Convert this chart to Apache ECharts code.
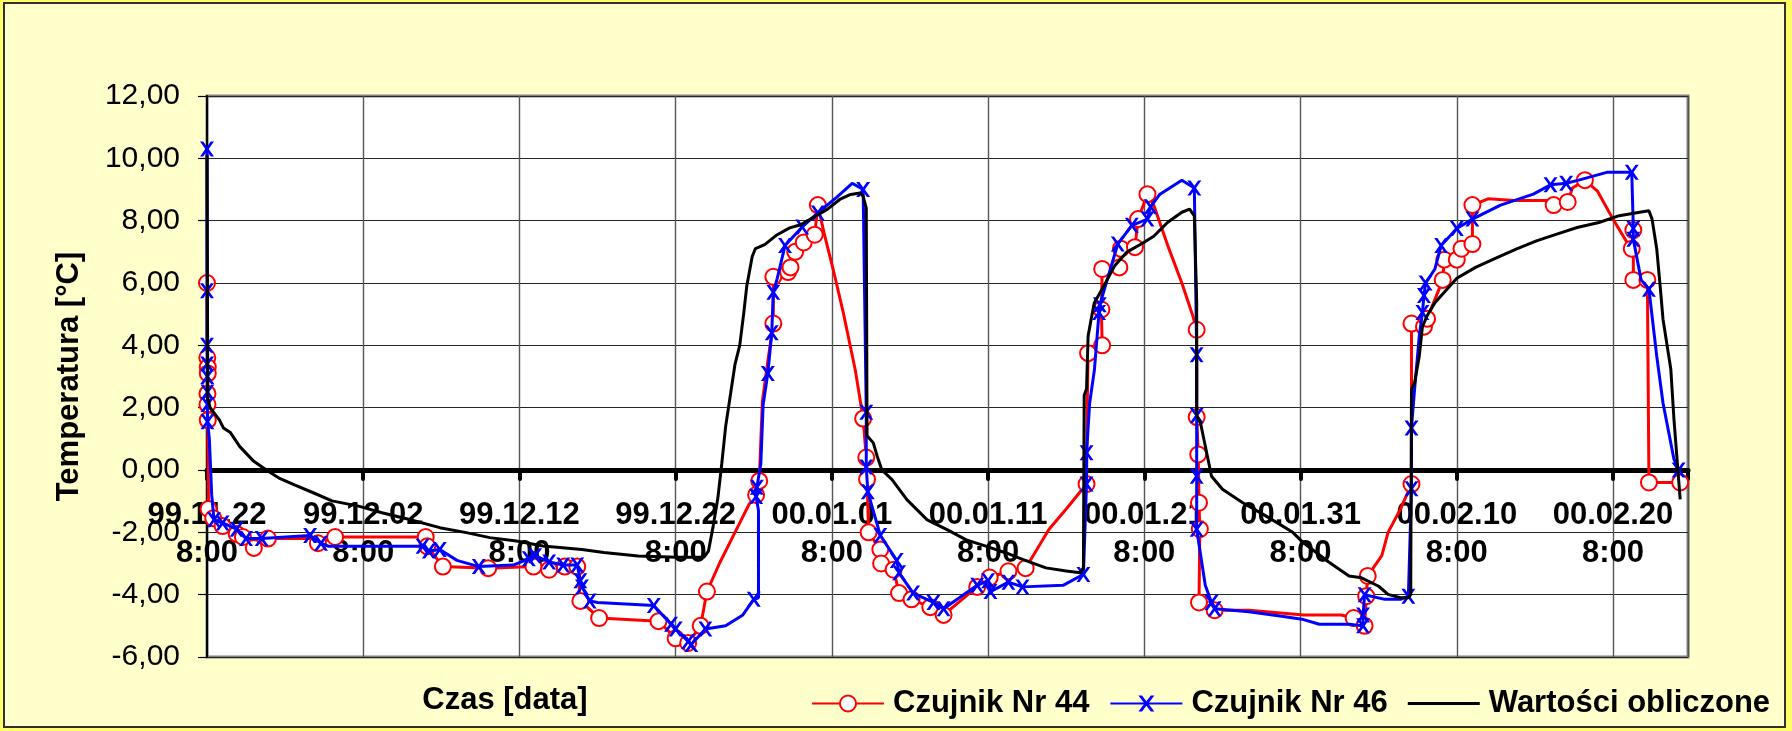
<!DOCTYPE html>
<html>
<head>
<meta charset="utf-8">
<script src="https://cdn.jsdelivr.net/npm/echarts@6/dist/echarts.min.js"></script>
<style>
  html, body { margin: 0; padding: 0; background: #FFFF66; }
  #frame { position: absolute; left: 3px; top: 2px; width: 1783px; height: 726px; box-sizing: border-box;
           background: #FFFFCC; border: 2px solid #303030; }
  #chart { position: absolute; left: 0; top: 0; width: 1792px; height: 731px; }
</style>
</head>
<body>
<div id="frame"></div>
<div id="chart"></div>
<script>
// ---- axis tick labels (x axis: days since 99.11.22 8:00) ----
const tickDates = ['99.11.22', '99.12.02', '99.12.12', '99.12.22', '00.01.01',
                   '00.01.11', '00.01.21', '00.01.31', '00.02.10', '00.02.20'];
const tickTime = '8:00';

// ---- Czujnik Nr 44 (days, temperature, 1 = measured sample with marker) ----
const days44 = [0, 0.02, 0.05, 0.05, 0.03, 0.03, 0.05, 0.1, 0.4, 1.0, 1.9, 2.3, 3.0, 3.9, 7.0, 7.1, 8.2,
  14.0, 14.1, 15.1, 18.0, 20.9, 21.9, 22.9, 23.7, 23.9, 25.1, 28.9, 30.0, 30.8, 31.6, 32.0, 32.8, 33.7, 34.7,
  35.15, 35.35, 35.55, 35.9, 36.25, 36.25, 37.2, 37.35, 37.65, 38.2, 38.9, 39.1, 39.5, 40.1, 40.75, 41.5,
  42.0, 42.2, 42.25, 42.35, 43.1, 43.15, 43.95, 44.3, 45.1, 46.3, 47.15, 49.3, 50.1, 51.3, 52.4, 53.9, 55.0,
  56.3, 56.35, 56.4, 57.3, 57.25, 57.3, 58.4, 58.5, 59.4, 59.6, 60.2, 60.6, 61.5, 62.4, 63.1, 63.35, 63.35,
  63.45, 63.5, 63.55, 63.5, 64.5, 66.7, 70.2, 72.6, 73.4, 74.1, 74.2, 74.3, 75.2, 75.6, 76.4, 77.1, 77.1,
  77.9, 78.1, 79.1, 79.2, 80.0, 80.3, 81.0, 81.0, 82.0, 83.7, 85.9, 86.2, 87.1, 87.4, 88.2, 89.0, 90.0, 90.9,
  91.2, 91.3, 91.3, 92.2, 92.3, 94.3];
const temps44 = [6.0, 3.6, 3.3, 3.1, 2.45, 2.1, 1.6, -1.25, -1.55, -1.8, -2.05, -2.15, -2.5, -2.2, -2.2, -2.35, -2.15,
  -2.15, -2.45, -3.1, -3.15, -3.1, -3.2, -3.1, -3.1, -4.2, -4.75, -4.85, -5.4, -5.55, -5.0, -3.9, -3.0, -2.1, -1.1,
  -0.8, -0.35, 2.2, 3.5, 4.7, 6.2, 6.35, 6.5, 7.0, 7.3, 7.55, 8.5, 7.6, 6.4, 5.0, 3.2,
  1.65, 0.4, -0.3, -2.0, -2.55, -3.0, -3.2, -3.95, -4.15, -4.4, -4.65, -3.75, -3.45, -3.25, -3.15, -1.9, -1.25,
  -0.45, 2.2, 3.75, 4.0, 5.15, 6.45, 6.5, 7.1, 7.15, 8.05, 8.85, 8.5, 7.2, 6.0, 4.95, 4.5, 1.7,
  0.5, -1.05, -1.9, -4.25, -4.5, -4.5, -4.65, -4.65, -4.75, -5.0, -4.05, -3.4, -2.75, -2.0, -1.25, -0.45, 4.7,
  4.6, 4.85, 6.1, 6.75, 6.75, 7.1, 7.25, 8.5, 8.7, 8.65, 8.65, 8.5, 8.6, 9.05, 9.3, 8.95, 8.05, 7.3,
  7.1, 7.7, 6.1, 6.1, -0.4, -0.4];
const marks44 = [1, 1, 1, 1, 1, 1, 1, 1, 1, 1, 1, 1, 1, 1, 0, 1, 1,
  1, 1, 1, 1, 1, 1, 1, 1, 1, 1, 1, 1, 1, 1, 1, 0, 0, 0,
  1, 1, 0, 0, 1, 1, 1, 1, 1, 1, 1, 1, 0, 0, 0, 0,
  1, 1, 1, 1, 1, 1, 1, 1, 1, 1, 1, 1, 1, 1, 1, 0, 0,
  1, 0, 1, 1, 1, 1, 1, 1, 1, 1, 1, 0, 0, 0, 0, 1, 1,
  1, 1, 1, 1, 1, 0, 0, 0, 1, 1, 1, 1, 0, 0, 0, 1, 1,
  1, 1, 1, 1, 1, 1, 1, 1, 0, 0, 0, 1, 1, 0, 1, 0, 0, 0,
  1, 1, 1, 1, 1, 1];

// ---- Czujnik Nr 46 ----
const days46 = [0, 0, 0, 0.01, 0.02, 0.03, 0.03, 0.03, 0.15, 0.3, 0.45, 1.0, 1.9, 2.5, 3.5, 6.6, 7.3, 7.8,
  13.8, 14.2, 14.9, 16.0, 17.4, 19.6, 20.6, 21.0, 21.9, 22.8, 23.7, 23.9, 24.0, 24.5, 25.0, 28.6, 29.7, 30.0,
  30.8, 31.0, 31.9, 33.2, 34.3, 35.0, 35.3, 35.3, 35.15, 35.2, 35.45, 35.6, 35.9, 36.15, 36.25, 36.5, 37.0,
  38.1, 39.1, 40.3, 41.3, 42.0, 42.2, 42.2, 42.3, 43.1, 44.15, 44.3, 45.2, 46.5, 47.15, 49.3, 50.0, 50.15,
  51.3, 52.2, 54.8, 55.9, 56.1, 56.3, 56.3, 56.5, 56.8, 57.1, 57.15, 58.3, 59.2, 60.2, 60.4, 61.0, 62.4,
  63.2, 63.35, 63.35, 63.35, 63.35, 63.9, 64.3, 64.5, 66.7, 68.9, 70.2, 71.2, 73.1, 74.0, 74.0, 74.1, 75.4,
  76.4, 76.9, 77.1, 77.1, 77.3, 77.6, 77.8, 77.9, 78.0, 78.6, 79.0, 80.0, 81.0, 82.8, 84.9, 86.0, 87.0,
  87.8, 89.6, 91.2, 91.3, 91.3, 91.8, 92.3, 92.8, 93.2, 93.9, 94.2];
const temps46 = [10.3, 5.75, 4.0, 3.4, 3.0, 2.5, 2.1, 1.55, 1.0, -0.8, -1.6, -1.7, -1.9, -2.2, -2.2, -2.1, -2.35, -2.45,
  -2.45, -2.6, -2.55, -2.9, -3.1, -3.05, -2.85, -2.75, -2.95, -3.05, -3.05, -3.55, -3.75, -4.2, -4.25, -4.35, -4.95, -5.1,
  -5.5, -5.6, -5.1, -5.0, -4.65, -4.15, -4.1, -1.3, -0.85, -0.55, 0.2, 2.1, 3.1, 4.4, 5.7, 6.15, 7.2,
  7.8, 8.25, 8.75, 9.2, 9.0, 1.85, 0.1, -0.7, -2.1, -2.9, -3.3, -3.95, -4.25, -4.45, -3.7, -3.55, -3.9,
  -3.6, -3.75, -3.7, -3.4, -3.35, -0.45, 0.55, 2.15, 3.2, 5.05, 5.3, 7.25, 7.85, 8.05, 8.45, 8.85, 9.3,
  9.05, 3.7, 1.75, -0.2, -1.9, -3.7, -4.25, -4.45, -4.55, -4.7, -4.8, -4.95, -4.95, -5.0, -4.65, -4.0, -4.15,
  -4.15, -4.05, -0.6, 1.35, 2.6, 4.3, 5.05, 5.6, 6.0, 6.45, 7.2, 7.75, 8.05, 8.5, 8.85, 9.15, 9.2,
  9.3, 9.55, 9.55, 7.75, 7.4, 6.1, 5.8, 3.65, 2.15, 0.35, 0.0];
const marks46 = [1, 1, 1, 1, 1, 1, 1, 1, 0, 0, 1, 1, 1, 1, 1, 1, 1, 0,
  1, 1, 1, 0, 1, 0, 1, 1, 1, 1, 1, 1, 1, 1, 0, 1, 1, 1,
  1, 1, 1, 0, 0, 1, 0, 0, 1, 1, 0, 0, 1, 1, 1, 0, 1,
  1, 1, 0, 0, 1, 1, 1, 1, 1, 1, 1, 1, 1, 1, 1, 1, 1,
  1, 1, 0, 0, 1, 1, 1, 0, 0, 1, 1, 1, 1, 1, 1, 0, 0,
  1, 1, 1, 1, 1, 0, 1, 1, 0, 0, 0, 0, 0, 1, 1, 1, 0,
  0, 1, 1, 1, 0, 0, 1, 1, 1, 0, 1, 1, 1, 0, 0, 1, 1,
  0, 0, 1, 1, 1, 0, 1, 0, 0, 0, 1];

// ---- Wartości obliczone ----
const daysCalc = [0, 0.05, 0.2, 0.8, 1.05, 1.5, 2.1, 2.95, 3.8, 4.65, 5.6, 6.8, 8.0, 9.7, 11.2, 12.9, 14.9,
  16.6, 18.1, 19.8, 21.5, 24.0, 25.4, 27.6, 30.1, 31.8, 32.1, 32.4, 32.7, 32.95, 33.2, 33.5, 33.8, 34.1,
  34.35, 34.55, 34.9, 35.1, 35.7, 36.5, 37.3, 38.0, 38.8, 39.7, 40.5, 41.2, 41.8, 42.0, 42.2, 42.25, 42.65,
  42.9, 43.2, 43.85, 44.8, 46.1, 47.4, 48.6, 49.9, 51.2, 52.2, 53.7, 55.0, 55.9, 56.1, 56.15, 56.3, 56.4,
  56.6, 56.8, 57.4, 58.1, 58.9, 59.8, 60.6, 61.5, 62.4, 62.9, 63.2, 63.35, 63.35, 63.6, 63.9, 64.3, 65.0,
  66.3, 67.8, 69.5, 70.1, 71.8, 73.1, 73.9, 75.0, 75.6, 76.4, 76.9, 77.05, 77.1, 77.3, 77.6, 77.8, 78.1,
  78.6, 79.2, 80.0, 81.2, 82.5, 83.8, 85.1, 86.4, 87.7, 89.1, 90.4, 91.7, 92.3, 92.5, 92.8, 93.0, 93.2,
  93.7, 93.9, 94.1, 94.3];
const tempsCalc = [10.1, 2.3, 2.0, 1.6, 1.35, 1.2, 0.75, 0.3, 0.0, -0.27, -0.48, -0.73, -0.99, -1.16, -1.37, -1.58, -1.85,
  -2.01, -2.17, -2.28, -2.44, -2.55, -2.65, -2.76, -2.8, -2.8, -2.6, -1.8, -0.9, 0.2, 1.4, 2.4, 3.4, 4.0,
  5.0, 5.9, 6.85, 7.1, 7.23, 7.55, 7.77, 7.87, 8.1, 8.36, 8.68, 8.84, 8.89, 8.78, 8.4, 1.1, 0.87,
  0.44, 0.0, -0.31, -0.95, -1.6, -1.92, -2.24, -2.45, -2.67, -2.87, -3.14, -3.24, -3.3, -3.14, 2.4, 2.6, 4.3,
  4.85, 5.37, 5.9, 6.55, 7.0, 7.25, 7.5, 7.95, 8.27, 8.37, 8.15, 5.4, 1.75, 1.5, 0.77, -0.2, -0.62,
  -1.05, -1.48, -2.0, -2.3, -2.95, -3.4, -3.46, -3.73, -3.99, -4.1, -4.1, -4.0, 2.6, 2.8, 3.66, 4.6, 4.95,
  5.37, 5.7, 6.15, 6.5, 6.8, 7.09, 7.35, 7.57, 7.78, 7.94, 8.16, 8.27, 8.32, 8.05, 7.09, 6.0, 4.84,
  3.23, 1.63, 0.34, -0.94];

const FONT = "'Liberation Sans', Arial, sans-serif";
const xMark = 'path://M0,0L3.2,0L7,5.3L10.8,0L14,0L8.7,7.5L14,15L10.8,15L7,9.7L3.2,15L0,15L5.3,7.5Z';
const plainLineIcon = 'path://M0,0L100,0L100,4.4L0,4.4Z';

const Y_MIN = -6, Y_MAX = 12;
const GRID_TOP = 96, GRID_BOTTOM = 74, CHART_H = 731;

function build(days, temps, marks) {
  return days.map((d, i) => {
    const item = { value: [d, temps[i]] };
    if (marks && !marks[i]) item.symbol = 'none';
    return item;
  });
}

// place the x axis (line, ticks and labels) on the zero line of the temperature scale
const gridH = CHART_H - GRID_TOP - GRID_BOTTOM;
const zeroOffset = -gridH * (0 - Y_MIN) / (Y_MAX - Y_MIN);

const chart = echarts.init(document.getElementById('chart'), null, { renderer: 'canvas' });
chart.setOption({
  animation: false,
  backgroundColor: 'transparent',
  textStyle: { fontFamily: FONT },
  grid: {
    left: 207, right: 104, top: GRID_TOP, bottom: GRID_BOTTOM,
    containLabel: false, outerBoundsMode: 'none',
    show: true, backgroundColor: '#FFFFFF', borderColor: '#808080', borderWidth: 3
  },
  xAxis: {
    type: 'value', min: 0, max: 94.8, interval: 10, position: 'bottom', offset: zeroOffset,
    axisLine: { show: true, onZero: false, lineStyle: { color: '#000', width: 5 } },
    axisTick: { show: true, inside: false, length: 9, lineStyle: { color: '#000', width: 4, cap: 'round' } },
    axisLabel: {
      margin: 26, color: '#000', fontFamily: FONT, fontWeight: 'bold', fontSize: 31, lineHeight: 38,
      formatter: function (v) {
        const i = Math.round(v / 10);
        if (Math.abs(v - i * 10) > 1e-6 || i >= tickDates.length) return '';
        return tickDates[i] + '\n' + tickTime;
      }
    },
    splitLine: { show: true, lineStyle: { color: '#555555', width: 1.4 } }
  },
  yAxis: {
    type: 'value', min: Y_MIN, max: Y_MAX, interval: 2,
    name: 'Temperatura [°C]', nameLocation: 'middle', nameGap: 122, nameRotate: 90,
    nameTextStyle: { color: '#000', fontFamily: FONT, fontWeight: 'bold', fontSize: 31 },
    axisLine: { show: true, onZero: false, lineStyle: { color: '#000', width: 2 } },
    axisTick: { show: true, inside: false, length: 9, lineStyle: { color: '#000', width: 1.2 } },
    axisLabel: {
      margin: 27, color: '#000', fontFamily: FONT, fontSize: 30,
      formatter: v => v.toFixed(2).replace('.', ',')
    },
    splitLine: { show: true, lineStyle: { color: '#262626', width: 1.2 } }
  },
  legend: {
    left: 806, top: 683, orient: 'horizontal',
    itemWidth: 72, itemHeight: 20, itemGap: 20,
    textStyle: { color: '#000', fontFamily: FONT, fontWeight: 'bold', fontSize: 31, padding: [0, 0, 0, 4] },
    data: ['Czujnik Nr 44', 'Czujnik Nr 46', { name: 'Wartości obliczone', icon: plainLineIcon }]
  },
  graphic: [{
    type: 'text', x: 505, y: 700,
    style: { text: 'Czas [data]', fill: '#000', font: "bold 31px 'Liberation Sans', Arial, sans-serif",
             textAlign: 'center', textVerticalAlign: 'middle' }
  }],
  series: [
    {
      name: 'Czujnik Nr 44', type: 'line', data: build(days44, temps44, marks44),
      showSymbol: true, showAllSymbol: true, symbol: 'emptyCircle', symbolSize: 16,
      itemStyle: { color: '#FF0000', borderWidth: 2.5 },
      lineStyle: { color: '#FF0000', width: 3 }, z: 3
    },
    {
      name: 'Czujnik Nr 46', type: 'line', data: build(days46, temps46, marks46),
      showSymbol: true, showAllSymbol: true, symbol: xMark, symbolSize: [14, 15],
      itemStyle: { color: '#0000FF' },
      lineStyle: { color: '#0000FF', width: 3 }, z: 4
    },
    {
      name: 'Wartości obliczone', type: 'line', data: build(daysCalc, tempsCalc, null),
      showSymbol: false, symbol: 'none',
      itemStyle: { color: '#000000' },
      lineStyle: { color: '#000000', width: 3 }, z: 5
    }
  ]
});
</script>
</body>
</html>
